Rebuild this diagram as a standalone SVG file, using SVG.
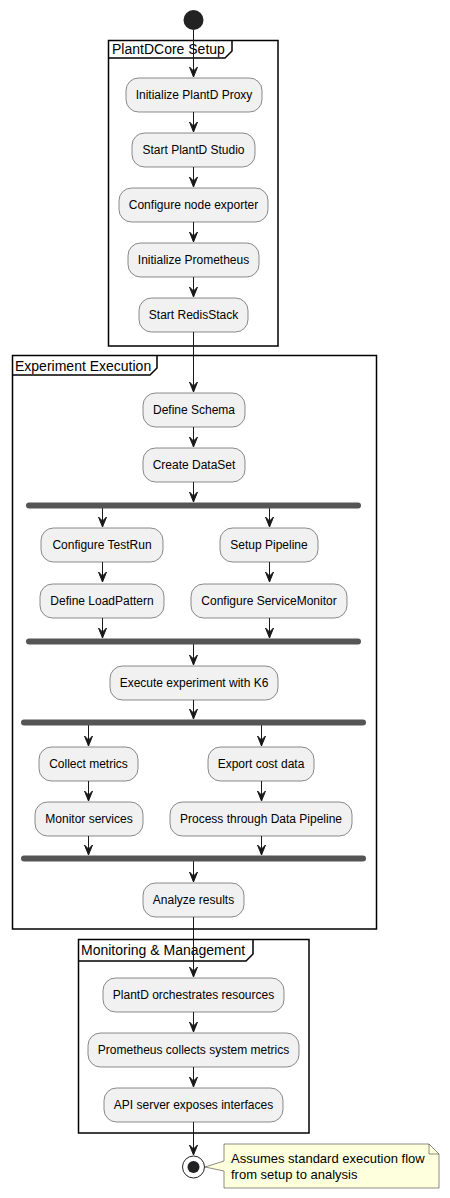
<svg xmlns="http://www.w3.org/2000/svg" width="450" height="1198" viewBox="0 0 450 1198">
<style>
.n rect{fill:#F1F1F1;stroke:#181818;stroke-width:0.5}
.n text{font-family:"Liberation Sans",Arial,sans-serif;font-size:12px;fill:#000;text-anchor:middle}
.f{fill:none;stroke:#000;stroke-width:1.5}
.ft{font-family:"Liberation Sans",Arial,sans-serif;font-size:14px;fill:#000}
.c line{stroke:#181818;stroke-width:1}
.bar{fill:#555555}
</style>
<defs>
<marker id="ah" markerUnits="userSpaceOnUse" markerWidth="12" markerHeight="12" refX="10" refY="5" orient="auto" overflow="visible">
<path d="M0,1 L10,5 L0,9 L4,5 Z" fill="#181818" stroke="#181818" stroke-width="1"/>
</marker>
</defs>
<rect width="450" height="1198" fill="#FFFFFF"/>

<g id="frames">
<g id="frame-setup">
<rect class="f" x="108.5" y="40.5" width="169.5" height="305.5"/>
<path class="f" d="M108.5,58 L225,58 L232,51 L232,40.5"/>
<text class="ft" x="112" y="54">PlantDCore Setup</text>
</g>
<g id="frame-exec">
<rect class="f" x="12.5" y="355.5" width="364" height="573.5"/>
<path class="f" d="M12.5,375 L150,375 L157,368 L157,355.5"/>
<text class="ft" x="15" y="371">Experiment Execution</text>
</g>
<g id="frame-mon">
<rect class="f" x="78.5" y="939.5" width="230.5" height="193.5"/>
<path class="f" d="M78.5,961 L246,961 L253,954 L253,939.5"/>
<text class="ft" x="81" y="955">Monitoring &amp; Management</text>
</g>
</g>

<g id="start"><circle cx="193.5" cy="20" r="10" fill="#222222"/></g>

<g class="c" id="connectors">
<line x1="193.5" y1="30" x2="193.5" y2="77" marker-end="url(#ah)"/>
<line x1="193.5" y1="112" x2="193.5" y2="132" marker-end="url(#ah)"/>
<line x1="193.5" y1="167" x2="193.5" y2="187" marker-end="url(#ah)"/>
<line x1="193.5" y1="222" x2="193.5" y2="242" marker-end="url(#ah)"/>
<line x1="193.5" y1="277" x2="193.5" y2="297" marker-end="url(#ah)"/>
<line x1="193.5" y1="332" x2="193.5" y2="392" marker-end="url(#ah)"/>
<line x1="193.5" y1="427" x2="193.5" y2="447" marker-end="url(#ah)"/>
<line x1="193.5" y1="482" x2="193.5" y2="502" marker-end="url(#ah)"/>
<line x1="102.5" y1="508" x2="102.5" y2="527" marker-end="url(#ah)"/>
<line x1="269.5" y1="508" x2="269.5" y2="527" marker-end="url(#ah)"/>
<line x1="102.5" y1="562" x2="102.5" y2="582" marker-end="url(#ah)"/>
<line x1="269.5" y1="562" x2="269.5" y2="582" marker-end="url(#ah)"/>
<line x1="102.5" y1="618" x2="102.5" y2="638" marker-end="url(#ah)"/>
<line x1="269.5" y1="618" x2="269.5" y2="638" marker-end="url(#ah)"/>
<line x1="193.5" y1="644" x2="193.5" y2="665" marker-end="url(#ah)"/>
<line x1="193.5" y1="700" x2="193.5" y2="719" marker-end="url(#ah)"/>
<line x1="88.5" y1="725" x2="88.5" y2="746" marker-end="url(#ah)"/>
<line x1="261.5" y1="725" x2="261.5" y2="746" marker-end="url(#ah)"/>
<line x1="88.5" y1="781" x2="88.5" y2="801" marker-end="url(#ah)"/>
<line x1="261.5" y1="781" x2="261.5" y2="801" marker-end="url(#ah)"/>
<line x1="88.5" y1="836" x2="88.5" y2="855" marker-end="url(#ah)"/>
<line x1="261.5" y1="836" x2="261.5" y2="855" marker-end="url(#ah)"/>
<line x1="193.5" y1="861" x2="193.5" y2="882" marker-end="url(#ah)"/>
<line x1="193.5" y1="917" x2="193.5" y2="977" marker-end="url(#ah)"/>
<line x1="193.5" y1="1012" x2="193.5" y2="1032" marker-end="url(#ah)"/>
<line x1="193.5" y1="1067" x2="193.5" y2="1087" marker-end="url(#ah)"/>
<line x1="193.5" y1="1122" x2="193.5" y2="1155" marker-end="url(#ah)"/>
</g>

<g id="bars">
<rect class="bar" x="26" y="502.5" width="335" height="6" rx="3"/>
<rect class="bar" x="26" y="638.5" width="335" height="6" rx="3"/>
<rect class="bar" x="21" y="719.5" width="345" height="6" rx="3"/>
<rect class="bar" x="21" y="855.5" width="345" height="6" rx="3"/>
</g>

<g class="n" id="n1"><rect x="126" y="78" width="136" height="34" rx="12.5"/><text x="194" y="99">Initialize PlantD Proxy</text></g>
<g class="n" id="n2"><rect x="132" y="133" width="123" height="34" rx="12.5"/><text x="193.5" y="154">Start PlantD Studio</text></g>
<g class="n" id="n3"><rect x="119" y="188" width="149" height="34" rx="12.5"/><text x="193.5" y="209">Configure node exporter</text></g>
<g class="n" id="n4"><rect x="128" y="243" width="131" height="34" rx="12.5"/><text x="193.5" y="264">Initialize Prometheus</text></g>
<g class="n" id="n5"><rect x="139" y="298" width="109" height="34" rx="12.5"/><text x="193.5" y="319">Start RedisStack</text></g>
<g class="n" id="n6"><rect x="143" y="393" width="102" height="34" rx="12.5"/><text x="194" y="414">Define Schema</text></g>
<g class="n" id="n7"><rect x="143" y="448" width="102" height="34" rx="12.5"/><text x="194" y="469">Create DataSet</text></g>
<g class="n" id="n8"><rect x="41" y="528" width="122" height="34" rx="12.5"/><text x="102" y="549">Configure TestRun</text></g>
<g class="n" id="n9"><rect x="40" y="584" width="124" height="34" rx="12.5"/><text x="102" y="605">Define LoadPattern</text></g>
<g class="n" id="n10"><rect x="220" y="528" width="98" height="34" rx="12.5"/><text x="269" y="549">Setup Pipeline</text></g>
<g class="n" id="n11"><rect x="191" y="584" width="156" height="34" rx="12.5"/><text x="269" y="605">Configure ServiceMonitor</text></g>
<g class="n" id="n12"><rect x="110" y="666" width="168" height="34" rx="12.5"/><text x="194" y="687">Execute experiment with K6</text></g>
<g class="n" id="n13"><rect x="39" y="747" width="99" height="34" rx="12.5"/><text x="88.5" y="768">Collect metrics</text></g>
<g class="n" id="n14"><rect x="35" y="802" width="108" height="34" rx="12.5"/><text x="89" y="823">Monitor services</text></g>
<g class="n" id="n15"><rect x="208" y="747" width="106" height="34" rx="12.5"/><text x="261" y="768">Export cost data</text></g>
<g class="n" id="n16"><rect x="170" y="802" width="182" height="34" rx="12.5"/><text x="261" y="823">Process through Data Pipeline</text></g>
<g class="n" id="n17"><rect x="143" y="883" width="101" height="34" rx="12.5"/><text x="193.5" y="904">Analyze results</text></g>
<g class="n" id="n18"><rect x="103" y="978" width="181" height="34" rx="12.5"/><text x="193.5" y="999">PlantD orchestrates resources</text></g>
<g class="n" id="n19"><rect x="88" y="1033" width="211" height="34" rx="12.5"/><text x="193.5" y="1054">Prometheus collects system metrics</text></g>
<g class="n" id="n20"><rect x="104" y="1088" width="179" height="34" rx="12.5"/><text x="193.5" y="1109">API server exposes interfaces</text></g>

<g id="end">
<circle cx="193.5" cy="1167" r="11" fill="#FFFFFF" stroke="#222222" stroke-width="1"/>
<circle cx="193.5" cy="1167" r="6" fill="#222222"/>
</g>

<g id="note">
<path d="M224,1144 L224,1161 L205,1167 L224,1171 L224,1188 L439,1188 L439,1154 L429,1144 Z" fill="#FEFFDD" stroke="#181818" stroke-width="0.5"/>
<path d="M429,1144 L429,1154 L439,1154" fill="none" stroke="#181818" stroke-width="0.5"/>
<text x="231" y="1163" font-family="Liberation Sans, Arial, sans-serif" font-size="13" fill="#000">Assumes standard execution flow</text>
<text x="231" y="1179" font-family="Liberation Sans, Arial, sans-serif" font-size="13" fill="#000">from setup to analysis</text>
</g>
</svg>
